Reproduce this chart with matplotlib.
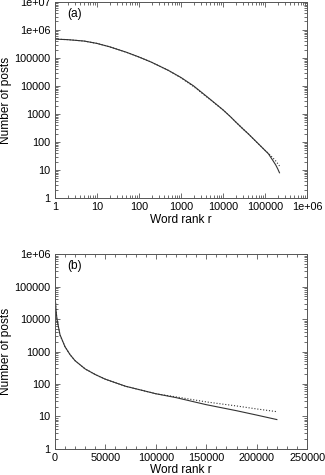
#!/usr/bin/env python

import matplotlib
matplotlib.use("Agg")
import matplotlib.pyplot as plt
from matplotlib.ticker import FixedLocator, LogLocator, NullFormatter

plt.rcParams["font.family"] = ["Liberation Sans", "DejaVu Sans"]

# word rank vs number of posts (observed) and model fit
rank = [1, 2, 5, 10, 20, 50, 100, 200, 500, 1000, 2000, 5000, 10000, 15000,
        20000, 30000, 40000, 50000, 70000, 100000, 120000, 150000, 180000,
        200000, 220000]
posts_obs = [470000, 450000, 400000, 330000, 250000, 160000, 108000, 70000,
             36000, 20000, 10000, 3300, 1400, 800, 520, 290, 195, 140, 85,
             50, 38, 23, 15, 11, 8]
posts_fit = [470000, 450000, 400000, 330000, 250000, 160000, 108000, 70000,
             36000, 19500, 9500, 3200, 1400, 800, 520, 290, 195, 140, 85,
             50, 40, 28, 21, 17, 14]

xticks_a = [1, 10, 100, 1000, 10000, 100000, 1000000]
xlabels_a = ["1", "10", "100", "1000", "10000", "100000", "1e+06"]
yticks_a = [1, 10, 100, 1000, 10000, 100000, 1000000, 10000000]
ylabels_a = ["1", "10", "100", "1000", "10000", "100000", "1e+06", "1e+07"]
xticks_b = [0, 50000, 100000, 150000, 200000, 250000]
yticks_b = [1, 10, 100, 1000, 10000, 100000, 1000000]
ylabels_b = ["1", "10", "100", "1000", "10000", "100000", "1e+06"]


def style(ax):
    ax.tick_params(which="both", direction="in", top=True, right=True,
                   labelsize=7.8, width=0.6, color="#555555", pad=3)
    ax.tick_params(which="major", length=3.5)
    ax.tick_params(which="minor", length=2)
    for s in ax.spines.values():
        s.set_linewidth(0.7)
        s.set_color("#555555")


def main():
    fig = plt.figure(figsize=(3.25, 4.75), dpi=100)
    ax1 = fig.add_axes([0.169, 0.583, 0.776, 0.413])
    ax2 = fig.add_axes([0.169, 0.055, 0.776, 0.41])

    for ax in (ax1, ax2):
        ax.plot(rank, posts_obs, "-", color="#333333", lw=0.8)
        ax.plot(rank, posts_fit, ":", color="#333333", lw=0.8)
        ax.set_yscale("log")
        style(ax)
        ax.set_ylabel("Number of posts", fontsize=8.6, labelpad=2)
        ax.set_xlabel("Word rank r", fontsize=8.6, labelpad=1)

    ax1.set_xscale("log")
    ax1.set_xlim(1, 1e6)
    ax1.set_ylim(1, 1e7)
    ax1.set_xticks(xticks_a, xlabels_a)
    ax1.set_yticks(yticks_a, ylabels_a)
    ax1.xaxis.set_minor_locator(LogLocator(subs=range(2, 10)))
    ax1.xaxis.set_minor_formatter(NullFormatter())
    ax1.yaxis.set_minor_locator(LogLocator(subs=range(2, 10)))
    ax1.yaxis.set_minor_formatter(NullFormatter())
    ax1.text(0.05, 0.94, "(a)", transform=ax1.transAxes, fontsize=8.6,
             va="center")

    ax2.set_xlim(0, 250000)
    ax2.set_ylim(1, 1e6)
    ax2.set_xticks(xticks_b, [str(t) for t in xticks_b])
    ax2.xaxis.set_minor_locator(FixedLocator(range(0, 250001, 10000)))
    ax2.set_yticks(yticks_b, ylabels_b)
    ax2.yaxis.set_minor_locator(LogLocator(subs=range(2, 10)))
    ax2.yaxis.set_minor_formatter(NullFormatter())
    ax2.text(0.05, 0.94, "(b)", transform=ax2.transAxes, fontsize=8.6,
             va="center")

    fig.savefig("out.png", dpi=100)


if __name__ == "__main__":
    main()
